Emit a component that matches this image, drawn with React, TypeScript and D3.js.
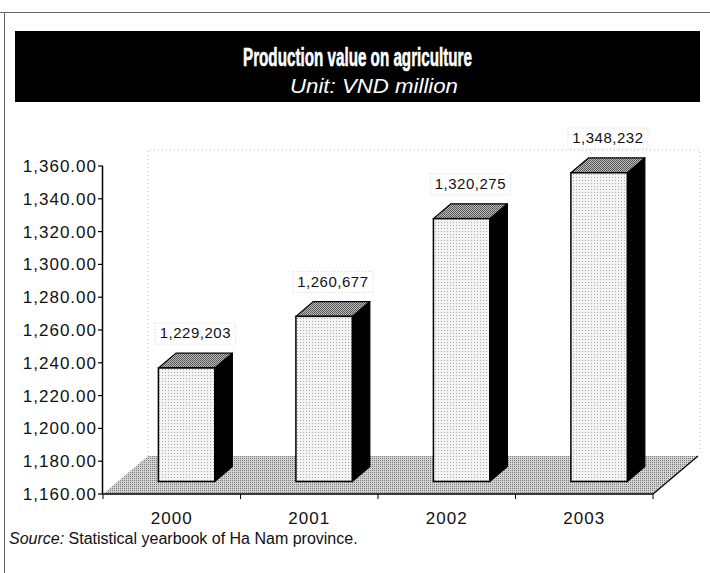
import React from "react";
import * as d3 from "d3";

const years = ["2000", "2001", "2002", "2003"];
const values = [1229203, 1260677, 1320275, 1348232]; // VND million
const valueLabels = ["1,229,203", "1,260,677", "1,320,275", "1,348,232"];
const yTickValues = [1160, 1180, 1200, 1220, 1240, 1260, 1280, 1300, 1320, 1340, 1360];
const titleText = "Production value on agriculture";
const subtitleText = "Unit: VND million";
const sourceLabel = "Source:";
const sourceText = "Statistical yearbook of Ha Nam province.";

export default function App() {
  const W = 710;
  const H = 573;
  const axisX0 = 103;
  const axisX1 = 653;
  const plotTop = 166;
  const plotBottom = 494;
  const depth = { x: 45, y: -38 };
  const f0 = 0.33;
  const f1 = 0.72;

  const y = d3.scaleLinear().domain([1160, 1360]).range([plotBottom, plotTop]);
  const x = d3.scaleBand<string>().domain(years).range([axisX0, axisX1]);
  const barW = x.bandwidth() * 0.41;
  const fmt = d3.format(",.2f");

  const dx = depth.x * (f1 - f0);
  const dy = depth.y * (f1 - f0);

  const floor = [
    [axisX0, plotBottom],
    [axisX1, plotBottom],
    [axisX1 + depth.x, plotBottom + depth.y],
    [axisX0 + depth.x, plotBottom + depth.y],
  ];
  const pts = (p: number[][]) => p.map((q) => q.join(",")).join(" ");

  const font = "'Liberation Sans', Arial, Helvetica, sans-serif";

  return (
    <svg width={W} height={H} style={{ position: "absolute", left: 0, top: 0, background: "#fff" }}>
      <defs>
        <pattern id="floorPat" width="2" height="2" patternUnits="userSpaceOnUse">
          <rect width="2" height="2" fill="#d2d2d2" />
          <rect width="1" height="1" fill="#7a7a7a" />
        </pattern>
        <pattern id="frontPat" width="3" height="3" patternUnits="userSpaceOnUse">
          <rect width="3" height="3" fill="#f4f4f4" />
          <rect width="1" height="1" fill="#a8a8a8" />
        </pattern>
        <pattern id="topPat" width="2" height="2" patternUnits="userSpaceOnUse">
          <rect width="2" height="2" fill="#bcbcbc" />
          <rect width="1" height="1" fill="#505050" />
          <rect x="1" y="1" width="1" height="1" fill="#606060" />
        </pattern>
      </defs>

      {/* outer frame */}
      <line x1={0} x2={W} y1={12.5} y2={12.5} stroke="#666" strokeWidth={1} />
      <line x1={4.5} x2={4.5} y1={12} y2={H} stroke="#666" strokeWidth={1} />

      {/* title box */}
      <rect x={15} y={31} width={685} height={71} fill="#000" />
      <text
        x={357.5}
        y={66}
        textAnchor="middle"
        fill="#fff"
        fontFamily={font}
        fontWeight={900}
        fontSize={26}
        textLength={229}
        lengthAdjust="spacingAndGlyphs"
        stroke="#fff"
        strokeWidth={0.6}
      >
        {titleText}
      </text>
      <text
        x={374}
        y={93}
        textAnchor="middle"
        fill="#fff"
        fontFamily={font}
        fontStyle="italic"
        fontSize={20}
        textLength={168}
        lengthAdjust="spacingAndGlyphs"
      >
        {subtitleText}
      </text>

      {/* back wall (faint dotted) */}
      <polyline
        points={pts([
          [axisX0 + depth.x, plotBottom + depth.y],
          [axisX0 + depth.x, 150],
          [axisX1 + depth.x + 2, 150],
          [axisX1 + depth.x + 2, plotBottom + depth.y],
        ])}
        fill="none"
        stroke="#bbb"
        strokeWidth={1}
        strokeDasharray="1 3"
      />

      {/* floor */}
      <polygon points={pts(floor)} fill="url(#floorPat)" />
      <line
        x1={axisX1}
        y1={plotBottom}
        x2={axisX1 + depth.x}
        y2={plotBottom + depth.y}
        stroke="#000"
        strokeWidth={1.2}
      />

      {/* bars */}
      {years.map((yr, i) => {
        const v = values[i] / 1000;
        const cx = (x(yr) as number) + x.bandwidth() / 2;
        const fx0 = cx - barW / 2 + depth.x * f0;
        const fx1 = fx0 + barW;
        const ft = y(v) + depth.y * f0;
        const fb = y(1160) + depth.y * f0;
        const top = [
          [fx0, ft],
          [fx1, ft],
          [fx1 + dx, ft + dy],
          [fx0 + dx, ft + dy],
        ];
        const side = [
          [fx1, ft],
          [fx1 + dx, ft + dy],
          [fx1 + dx, fb + dy],
          [fx1, fb],
        ];
        const lx = cx + depth.x * (f0 + f1) / 2;
        const ly = ft + dy - 15;
        return (
          <g key={yr}>
            <polygon points={pts(side)} fill="#000" stroke="#000" strokeWidth={1.2} strokeLinejoin="round" />
            <polygon points={pts(top)} fill="url(#topPat)" stroke="#000" strokeWidth={1.2} strokeLinejoin="round" />
            <rect
              x={fx0}
              y={ft}
              width={barW}
              height={fb - ft}
              fill="url(#frontPat)"
              stroke="#000"
              strokeWidth={1.5}
            />
            <rect
              x={lx - 40}
              y={ly - 15}
              width={80}
              height={21}
              fill="none"
              stroke="#d4d4d4"
              strokeWidth={1}
              strokeDasharray="1 2"
            />
            <text
              x={lx}
              y={ly}
              textAnchor="middle"
              fontFamily={font}
              fontSize={15}
              letterSpacing={0.5}
              fill="#111"
            >
              {valueLabels[i]}
            </text>
          </g>
        );
      })}

      {/* x axis */}
      <line x1={axisX0} x2={axisX1} y1={plotBottom} y2={plotBottom} stroke="#000" strokeWidth={1.5} />
      {[axisX0, ...years.map((yr) => (x(yr) as number) + x.bandwidth())].map((tx, i) => (
        <line key={i} x1={tx} x2={tx} y1={plotBottom} y2={plotBottom + 5} stroke="#000" strokeWidth={1} />
      ))}
      {years.map((yr) => (
        <text
          key={yr}
          x={(x(yr) as number) + x.bandwidth() / 2}
          y={524}
          textAnchor="middle"
          fontFamily={font}
          fontSize={17}
          letterSpacing={1}
          fill="#111"
        >
          {yr}
        </text>
      ))}

      {/* y axis */}
      <line x1={102.5} x2={102.5} y1={plotTop} y2={plotBottom} stroke="#000" strokeWidth={1.5} />
      {yTickValues.map((t) => (
        <g key={t}>
          <line x1={98} x2={103} y1={y(t)} y2={y(t)} stroke="#000" strokeWidth={1.2} />
          <text
            x={97}
            y={y(t) + 6}
            textAnchor="end"
            fontFamily={font}
            fontSize={17}
            letterSpacing={1}
            fill="#111"
          >
            {fmt(t)}
          </text>
        </g>
      ))}

      {/* source */}
      <text x={9} y={544} fontFamily={font} fontSize={16} fill="#111">
        <tspan fontStyle="italic">{sourceLabel}</tspan>
        <tspan> {sourceText}</tspan>
      </text>
    </svg>
  );
}
